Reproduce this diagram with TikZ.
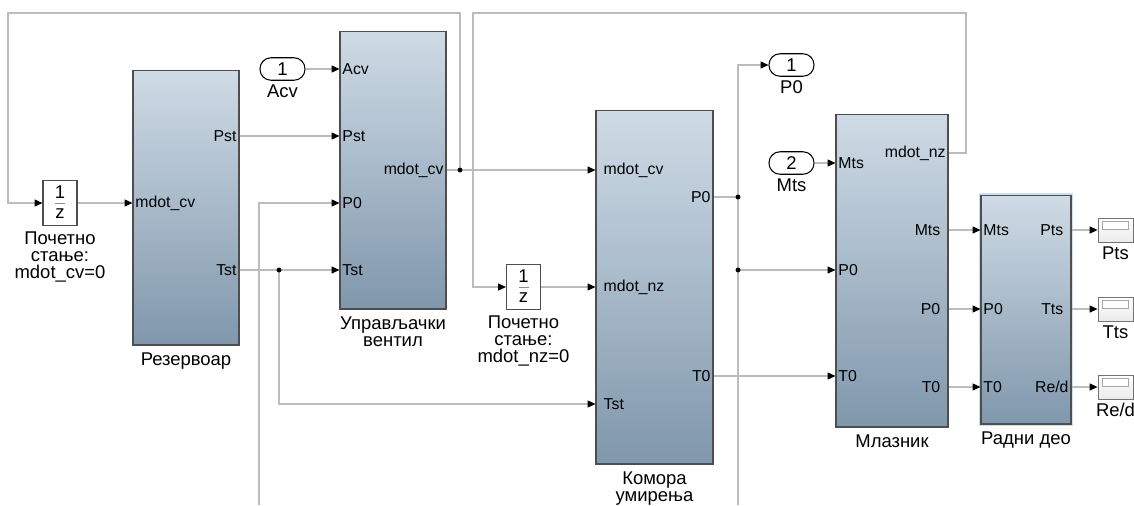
\documentclass[tikz,border=0pt]{standalone}
\usepackage{fontspec}
\setmainfont{Liberation Sans}
\usetikzlibrary{arrows.meta,shadows,positioning}
\definecolor{blkTop}{RGB}{207,219,230}
\definecolor{blkBot}{RGB}{128,151,172}
\definecolor{wire}{RGB}{188,188,188}
\definecolor{edge}{RGB}{78,78,78}
\definecolor{selglow}{RGB}{200,222,248}
\begin{document}
\begin{tikzpicture}[x=0.02cm,y=-0.02cm,
  every node/.style={font=\fontsize{9}{9.6}\selectfont},
  blk/.style={draw=edge, line width=0.6pt, top color=blkTop, bottom color=blkBot,
    inner sep=0pt, drop shadow={shadow xshift=0.7pt, shadow yshift=-0.7pt, opacity=0.55, fill=black!70}},
  dly/.style={draw=edge, line width=0.6pt, fill=white, inner sep=0pt,
    minimum width=0.68cm, minimum height=0.9cm},
  iobox/.style={draw=black, line width=0.6pt, fill=white, rounded corners=0.22cm,
    minimum width=0.9cm, minimum height=0.45cm, inner sep=0pt, font=\fontsize{10.5}{10.5}\selectfont},
  scopebox/.style={draw=black!55, line width=0.5pt, top color=white, bottom color=black!8,
    minimum width=0.7cm, minimum height=0.48cm, inner sep=0pt},
  pin/.style={anchor=west, inner sep=1.5pt, font=\fontsize{9}{9.6}\selectfont},
  pout/.style={anchor=east, inner sep=1.5pt, font=\fontsize{9}{9.6}\selectfont},
  lbl/.style={anchor=north, align=center, inner sep=0pt, font=\fontsize{10.5}{9.7}\selectfont},
  wirestyle/.style={draw=wire, line width=0.6pt},
  sig/.style={wirestyle, -{Triangle[length=4.5pt,width=4pt,color=black]}},
  junc/.style={fill=black}
]
\fill[white] (0,0) rectangle (1134,505);
\useasboundingbox (0,0) rectangle (1134,505);

% ---------- blocks ----------
\node[blk, minimum width=2.12cm, minimum height=5.5cm] (res) at (186,207.5) {};
\node[blk, minimum width=2.12cm, minimum height=5.56cm] (cv) at (393,170) {};
\node[blk, minimum width=2.34cm, minimum height=7.08cm] (ch) at (654.5,287) {};
\node[blk, minimum width=2.24cm, minimum height=6.26cm] (nz) at (892,270.5) {};
\node[draw=selglow, line width=1pt, minimum width=1.84cm, minimum height=4.62cm, inner sep=0pt] (tsglow) at (1026,309.5) {};
\node[blk, minimum width=1.8cm, minimum height=4.58cm] (ts) at (1026,309.5) {};

% block captions
\node[lbl, below=4pt of res] {Резервоар};
\node[lbl, below=4pt of cv] {Управљачки\\вентил};
\node[lbl, below=4pt of ch] {Комора\\умирења};
\node[lbl, below=4pt of nz] {Млазник};
\node[lbl, below=4pt of ts] {Радни део};

% ---------- unit delays ----------
\node[dly] (d1) at (60,203) {};
\node[font=\fontsize{10.5}{10.5}\selectfont, inner sep=0pt] at (60,192.5) {1};
\draw[black!45, line width=0.5pt] (55,203.5) -- (65,203.5);
\node[font=\fontsize{10.5}{10.5}\selectfont, inner sep=0pt] at (60,214) {z};
\node[lbl, below=3pt of d1] {Почетно\\стање:\\mdot\_cv=0};

\node[dly] (d2) at (523.5,287) {};
\node[font=\fontsize{10.5}{10.5}\selectfont, inner sep=0pt] at (523.5,276.5) {1};
\draw[black!45, line width=0.5pt] (518.5,287.5) -- (528.5,287.5);
\node[font=\fontsize{10.5}{10.5}\selectfont, inner sep=0pt] at (523.5,298) {z};
\node[lbl, below=3pt of d2] {Почетно\\стање:\\mdot\_nz=0};

% ---------- in/out ports ----------
\node[iobox] (acv) at (282.5,69) {1};
\node[lbl, below=2pt of acv] {Acv};
\node[iobox] (p0out) at (791.5,65) {1};
\node[lbl, below=2pt of p0out] {P0};
\node[iobox] (mts) at (791.5,163) {2};
\node[lbl, below=2pt of mts] {Mts};

% ---------- scopes ----------
\foreach \n/\yy/\t in {sc1/230/Pts, sc2/309/Tts, sc3/387/Re{/}d}{
  \node[scopebox] (\n) at (1115.5,\yy) {};
  \draw[black!35, fill=white, line width=0.4pt] ([xshift=0.1cm,yshift=-0.07cm]\n.north west) rectangle ([xshift=-0.1cm,yshift=-0.24cm]\n.north east);
  \node[lbl, below=2pt of \n] {\t};
}

% ---------- port points ----------
\coordinate (res-in)  at (res.west |- 0,203);
\coordinate (res-pst) at (res.east |- 0,136);
\coordinate (res-tst) at (res.east |- 0,270);
\coordinate (cv-acv) at (cv.west |- 0,69);
\coordinate (cv-pst) at (cv.west |- 0,136);
\coordinate (cv-p0)  at (cv.west |- 0,203);
\coordinate (cv-tst) at (cv.west |- 0,270);
\coordinate (cv-out) at (cv.east |- 0,170);
\coordinate (ch-mcv) at (ch.west |- 0,170);
\coordinate (ch-mnz) at (ch.west |- 0,287);
\coordinate (ch-tst) at (ch.west |- 0,404);
\coordinate (ch-p0)  at (ch.east |- 0,197);
\coordinate (ch-t0)  at (ch.east |- 0,376);
\coordinate (nz-mts) at (nz.west |- 0,163);
\coordinate (nz-p0)  at (nz.west |- 0,270);
\coordinate (nz-t0)  at (nz.west |- 0,376);
\coordinate (nz-mnz) at (nz.east |- 0,153);
\coordinate (nz-omts) at (nz.east |- 0,230);
\coordinate (nz-op0) at (nz.east |- 0,309);
\coordinate (nz-ot0) at (nz.east |- 0,387);
\coordinate (ts-mts) at (ts.west |- 0,230);
\coordinate (ts-p0)  at (ts.west |- 0,309);
\coordinate (ts-t0)  at (ts.west |- 0,387);
\coordinate (ts-pts) at (ts.east |- 0,230);
\coordinate (ts-tts) at (ts.east |- 0,309);
\coordinate (ts-red) at (ts.east |- 0,387);

% branch points and routing corners
\coordinate (j1) at (279,270);
\coordinate (j2) at (460,170);
\coordinate (j3) at (738,197);
\coordinate (j4) at (738,270);
\coordinate (k1) at (460,13);
\coordinate (k2) at (8,13);
\coordinate (k3) at (966,13);
\coordinate (k4) at (473,13);
\coordinate (bot1) at (259,505);
\coordinate (bot2) at (738,505);

% ---------- port labels ----------
\node[pin] at (res-in) {mdot\_cv};
\node[pout] at (res-pst) {Pst};
\node[pout] at (res-tst) {Tst};
\node[pin] at (cv-acv) {Acv};
\node[pin] at (cv-pst) {Pst};
\node[pin] at (cv-p0) {P0};
\node[pin] at (cv-tst) {Tst};
\node[pout] at (cv-out) {mdot\_cv};
\node[pin] at ([xshift=3pt]ch-mcv) {mdot\_cv};
\node[pin] at ([xshift=3pt]ch-mnz) {mdot\_nz};
\node[pin] at ([xshift=3pt]ch-tst) {Tst};
\node[pout] at (ch-p0) {P0};
\node[pout] at (ch-t0) {T0};
\node[pin] at (nz-mts) {Mts};
\node[pin] at (nz-p0) {P0};
\node[pin] at (nz-t0) {T0};
\node[pout] at (nz-mnz) {mdot\_nz};
\node[pout] at ([xshift=-3pt]nz-omts) {Mts};
\node[pout] at ([xshift=-3pt]nz-op0) {P0};
\node[pout] at ([xshift=-3pt]nz-ot0) {T0};
\node[pin] at (ts-mts) {Mts};
\node[pin] at (ts-p0) {P0};
\node[pin] at (ts-t0) {T0};
\node[pout] at ([xshift=-3pt]ts-pts) {Pts};
\node[pout] at ([xshift=-3pt]ts-tts) {Tts};
\node[pout] at (ts-red) {Re/d};

% ---------- signals ----------
\draw[sig] (d1.east) -- (res-in);
\draw[sig] (res-pst) -- (cv-pst);
\draw[sig] (acv.east) -- (cv-acv);
\draw[sig] (res-tst) -- (cv-tst);
\draw[sig] (j1) |- (ch-tst);
\draw[sig] (bot1) |- (cv-p0);
\draw[sig] (cv-out) -- (ch-mcv);
\draw[sig] (j2) -- (k1) -- (k2) |- (d1.west);
\draw[sig] (nz-mnz) -| (k3) -- (k4) |- (d2.west);
\draw[sig] (d2.east) -- (ch-mnz);
\draw[wirestyle] (ch-p0) -- (j3);
\draw[sig] (bot2) |- (p0out.west);
\draw[sig] (j4) -- (nz-p0);
\draw[sig] (ch-t0) -- (nz-t0);
\draw[sig] (mts.east) -- (nz-mts);
\draw[sig] (nz-omts) -- (ts-mts);
\draw[sig] (nz-op0) -- (ts-p0);
\draw[sig] (nz-ot0) -- (ts-t0);
\draw[sig] (ts-pts) -- (sc1.west);
\draw[sig] (ts-tts) -- (sc2.west);
\draw[sig] (ts-red) -- (sc3.west);

% junction dots
\foreach \j in {j1,j2,j3,j4} \fill[junc] (\j) circle (1.4pt);
\end{tikzpicture}
\end{document}
